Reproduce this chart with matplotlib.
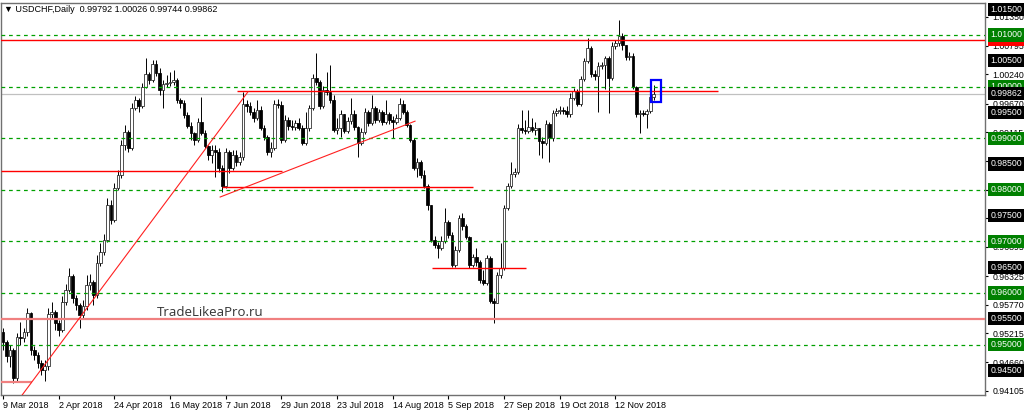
import matplotlib
matplotlib.use('Agg')
import matplotlib.pyplot as plt
import matplotlib.transforms as mtransforms
from matplotlib.patches import Rectangle
import numpy as np

plt.rcParams['font.family'] = ['Liberation Sans', 'DejaVu Sans']

# --- data ---
symbol = 'USDCHF,Daily'
header_ohlc = ['0.99792', '1.00026', '0.99744', '0.99862']
first_open = 0.9525

close = [
    0.9505, 0.9478, 0.9490, 0.9435, 0.9515, 0.9513, 0.9525, 0.9561, 0.9490, 0.9480,
    0.9465, 0.9451, 0.9459, 0.9559, 0.9563, 0.9542, 0.9529, 0.9583, 0.9606, 0.9633,
    0.9590, 0.9577, 0.9558, 0.9575, 0.9616, 0.9621, 0.9596, 0.9658, 0.9680, 0.9703,
    0.9771, 0.9742, 0.9804, 0.9829, 0.9887, 0.9912, 0.9881, 0.9959, 0.9974, 0.9963,
    0.9999, 1.0025, 1.0013, 1.0044, 1.0027, 0.9994, 1.0005, 1.0007, 1.0009, 1.0013,
    0.9974, 0.9968, 0.9945, 0.9924, 0.9910, 0.9897, 0.9932, 0.9910, 0.9885, 0.9868,
    0.9877, 0.9873, 0.9842, 0.9808, 0.9873, 0.9842, 0.9868, 0.9854, 0.9864, 0.9966,
    0.9963, 0.9951, 0.9939, 0.9955, 0.9920, 0.9902, 0.9873, 0.9881, 0.9966, 0.9965,
    0.9897, 0.9935, 0.9924, 0.9922, 0.9930, 0.9920, 0.9891, 0.9920, 0.9959, 1.0017,
    1.0009, 0.9963, 0.9994, 0.9990, 0.9974, 0.9916, 0.9920, 0.9947, 0.9914, 0.9933,
    0.9947, 0.9922, 0.9891, 0.9912, 0.9951, 0.9930, 0.9959, 0.9935, 0.9951, 0.9932,
    0.9947, 0.9935, 0.9932, 0.9939, 0.9966, 0.9951, 0.9926, 0.9897, 0.9842, 0.9854,
    0.9829, 0.9808, 0.9771, 0.9703, 0.9693, 0.9687, 0.9701, 0.9738, 0.9713, 0.9654,
    0.9683, 0.9745, 0.9730, 0.9709, 0.9654, 0.9670, 0.9660, 0.9625, 0.9620, 0.9668,
    0.9585, 0.9581, 0.9635, 0.9649, 0.9765, 0.9808, 0.9831, 0.9835, 0.9920, 0.9916,
    0.9914, 0.9922, 0.9916, 0.9920, 0.9895, 0.9891, 0.9928, 0.9901, 0.9949, 0.9953,
    0.9955, 0.9953, 0.9947, 0.9978, 0.9992, 0.9966, 1.0015, 1.0050, 1.0075, 1.0025,
    1.0021, 1.0040, 1.0042, 1.0056, 1.0017, 1.0079, 1.0085, 1.0098, 1.0081, 1.0058,
    1.0059, 0.9999, 0.9947, 0.9949, 0.9947, 0.9953, 0.99792, 0.99862,
]
high = [
    0.9532, 0.9509, 0.9499, 0.9494, 0.9523, 0.9544, 0.9532, 0.9571, 0.9563, 0.9497,
    0.9486, 0.9470, 0.9470, 0.9571, 0.9583, 0.9567, 0.9548, 0.9594, 0.9618, 0.9649,
    0.9637, 0.9596, 0.9581, 0.9587, 0.9635, 0.9637, 0.9625, 0.9674, 0.9697, 0.9715,
    0.9784, 0.9780, 0.9813, 0.9839, 0.9897, 0.9926, 0.9916, 0.9968, 0.9982, 0.9978,
    1.0007, 1.0056, 1.0028, 1.0052, 1.0052, 1.0036, 1.0013, 1.0023, 1.0028, 1.0032,
    1.0017, 0.9978, 0.9974, 0.9951, 0.9932, 0.9912, 0.9939, 0.9980, 0.9916, 0.9887,
    0.9887, 0.9887, 0.9881, 0.9848, 0.9881, 0.9877, 0.9877, 0.9877, 0.9873, 0.9990,
    0.9974, 0.9970, 0.9959, 0.9974, 0.9963, 0.9926, 0.9906, 0.9893, 0.9974, 0.9976,
    0.9972, 0.9945, 0.9941, 0.9935, 0.9935, 0.9939, 0.9926, 0.9951, 0.9965, 1.0025,
    1.0065, 1.0013, 1.0001, 1.0028, 1.0042, 0.9984, 0.9939, 0.9955, 0.9943, 0.9941,
    0.9978, 0.9955, 0.9924, 0.9920, 0.9959, 0.9955, 0.9984, 0.9963, 0.9957, 0.9955,
    0.9974, 0.9951, 0.9943, 0.9947, 0.9978, 0.9974, 0.9955, 0.9928, 0.9901, 0.9862,
    0.9858, 0.9839, 0.9811, 0.9771, 0.9711, 0.9699, 0.9711, 0.9765, 0.9742, 0.9718,
    0.9691, 0.9751, 0.9755, 0.9734, 0.9711, 0.9676, 0.9687, 0.9664, 0.9645, 0.9674,
    0.9672, 0.9590, 0.9641, 0.9697, 0.9771, 0.9813, 0.9854, 0.9842, 0.9928, 0.9955,
    0.9935, 0.9955, 0.9939, 0.9932, 0.9920, 0.9902, 0.9935, 0.9932, 0.9955, 0.9959,
    0.9963, 0.9961, 0.9963, 0.9988, 0.9997, 0.9996, 1.0021, 1.0056, 1.0094, 1.0079,
    1.0032, 1.0048, 1.0048, 1.0059, 1.0059, 1.0087, 1.0090, 1.0129, 1.0104, 1.0081,
    1.0067, 1.0065, 1.0001, 0.9955, 0.9955, 0.9957, 0.9982, 1.00026,
]
low = [
    0.9490, 0.9466, 0.9457, 0.9426, 0.9428, 0.9499, 0.9505, 0.9517, 0.9480, 0.9470,
    0.9455, 0.9441, 0.9430, 0.9451, 0.9552, 0.9529, 0.9517, 0.9525, 0.9577, 0.9602,
    0.9581, 0.9567, 0.9532, 0.9552, 0.9567, 0.9606, 0.9577, 0.9590, 0.9653, 0.9674,
    0.9699, 0.9734, 0.9738, 0.9800, 0.9823, 0.9877, 0.9873, 0.9877, 0.9955, 0.9951,
    0.9959, 0.9997, 1.0005, 1.0009, 1.0021, 0.9984, 0.9959, 0.9999, 1.0001, 1.0003,
    0.9968, 0.9959, 0.9939, 0.9920, 0.9897, 0.9887, 0.9893, 0.9906, 0.9881, 0.9858,
    0.9852, 0.9825, 0.9835, 0.9796, 0.9804, 0.9833, 0.9839, 0.9846, 0.9848, 0.9858,
    0.9951, 0.9945, 0.9932, 0.9935, 0.9916, 0.9897, 0.9868, 0.9864, 0.9877, 0.9959,
    0.9891, 0.9893, 0.9916, 0.9916, 0.9916, 0.9916, 0.9887, 0.9887, 0.9914, 0.9955,
    1.0003, 0.9957, 0.9959, 0.9984, 0.9968, 0.9912, 0.9908, 0.9902, 0.9910, 0.9910,
    0.9928, 0.9916, 0.9864, 0.9887, 0.9908, 0.9924, 0.9926, 0.9930, 0.9932, 0.9926,
    0.9928, 0.9928, 0.9901, 0.9928, 0.9935, 0.9947, 0.9922, 0.9893, 0.9839, 0.9825,
    0.9823, 0.9804, 0.9761, 0.9699, 0.9687, 0.9668, 0.9683, 0.9697, 0.9707, 0.9651,
    0.9651, 0.9680, 0.9722, 0.9705, 0.9649, 0.9651, 0.9653, 0.9620, 0.9616, 0.9616,
    0.9581, 0.9542, 0.9581, 0.9629, 0.9645, 0.9761, 0.9804, 0.9825, 0.9831, 0.9910,
    0.9908, 0.9910, 0.9912, 0.9906, 0.9868, 0.9862, 0.9887, 0.9854, 0.9895, 0.9943,
    0.9947, 0.9947, 0.9941, 0.9941, 0.9974, 0.9963, 0.9963, 1.0011, 1.0046, 1.0019,
    1.0013, 0.9951, 1.0034, 0.9995, 0.9949, 1.0013, 1.0073, 1.0079, 1.0071, 1.0052,
    1.0052, 0.9996, 0.9941, 0.9910, 0.9943, 0.9920, 0.9949, 0.99744,
]

date_labels = ['9 Mar 2018', '2 Apr 2018', '24 Apr 2018', '16 May 2018', '7 Jun 2018',
               '29 Jun 2018', '23 Jul 2018', '14 Aug 2018', '5 Sep 2018', '27 Sep 2018',
               '19 Oct 2018', '12 Nov 2018']
bars_per_label = 16

green_levels = [1.010, 1.000, 0.990, 0.980, 0.970, 0.960, 0.950]
black_levels = [1.015, 1.005, 0.995, 0.985, 0.975, 0.965, 0.955, 0.945]
scale_ticks = [1.01350, 1.00795, 1.00240, 0.99670, 0.99115, 0.98560, 0.98005,
               0.97450, 0.96895, 0.96325, 0.95770, 0.95215, 0.94660, 0.94105]
red_full_level = 1.0091
pink_full_level = 0.9550
# horizontal segments: price, first bar, last bar
red_segments = [(0.9992, 67.2, 205.5), (0.9837, -0.6, 80.2),
                (0.9806, 63.0, 135.0), (0.9649, 123.3, 150.3)]
pink_segments = [(0.9428, -0.6, 8.3)]
# trend lines: (bar, price) -> (bar, price)
trend_lines = [((5.5, 0.94023), (70.4, 0.9990)), ((62.4, 0.9786), (118.4, 0.9933))]
box_bars = (186.2, 189.1)
box_prices = (0.9970, 1.0013)
watermark = 'TradeLikeaPro.ru'

# --- figure ---
fig = plt.figure(figsize=(10.24, 4.13), dpi=100)
ax = fig.add_axes([0.001, 18 / 413, 984 / 1024, 392 / 413])
ax.set_xlim(-0.575, 282.2)
ax.set_ylim(0.94023, 1.0162)

c = np.array(close)
o = np.array([first_open] + close[:-1])
h = np.maximum(np.array(high), np.maximum(o, c))
l = np.minimum(np.array(low), np.minimum(o, c))
x = np.arange(len(c))
up = c >= o

ax.vlines(x, l, h, color='black', lw=0.7, zorder=2)
bottom = np.minimum(o, c)
height = np.maximum(np.abs(c - o), 0.00005)
ax.bar(x[up], height[up], bottom=bottom[up], width=0.76, color='white',
       edgecolor='#202020', lw=0.55, zorder=3)
ax.bar(x[~up], height[~up], bottom=bottom[~up], width=0.76, color='black',
       edgecolor='black', lw=0.55, zorder=3)

# levels and drawn objects
for lv in green_levels:
    ax.axhline(lv, color='#00a000', lw=0.9, ls=(0, (3, 3)), zorder=4)
ax.axhline(float(header_ohlc[3]), color='#c0c0c0', lw=0.9, zorder=1)
ax.axhline(red_full_level, color='#ff0000', lw=1.0, zorder=4)
ax.axhline(pink_full_level, color='#f08080', lw=1.6, zorder=4)
for p, a, b in red_segments:
    ax.hlines(p, a, b, color='#ff0000', lw=1.0, zorder=4)
for p, a, b in pink_segments:
    ax.hlines(p, a, b, color='#f08080', lw=1.6, zorder=4)
for (xa, ya), (xb, yb) in trend_lines:
    ax.plot([xa, xb], [ya, yb], color='#ff2020', lw=0.8, zorder=4)
ax.add_patch(Rectangle((box_bars[0], box_prices[0]), box_bars[1] - box_bars[0],
                       box_prices[1] - box_prices[0], fill=False, ec='#0000ff',
                       lw=1.6, zorder=5))

# axes styling
for s in ax.spines.values():
    s.set_color('#707070')
    s.set_linewidth(1.0)
ax.yaxis.tick_right()
ax.set_yticks(scale_ticks)
ax.set_yticklabels(['%.5f' % t for t in scale_ticks])
ax.tick_params(axis='y', length=2.5, width=0.8, pad=3, labelsize=6.3, colors='black')
ticks_x = [k * bars_per_label for k in range(len(date_labels))]
ax.set_xticks(ticks_x)
ax.set_xticklabels(date_labels)
for lbl in ax.get_xticklabels():
    lbl.set_ha('left')
ax.tick_params(axis='x', length=3, width=0.8, pad=1.5, labelsize=6.5)

# price scale boxes
tr = mtransforms.blended_transform_factory(ax.transAxes, ax.transData)
bx = 1.0052
box_font = 6.3
for lv in black_levels:
    ax.text(bx, lv, '%.5f' % lv, transform=tr, ha='left', va='center', color='white',
            fontsize=box_font, clip_on=False, zorder=10,
            bbox=dict(boxstyle='square,pad=0.25', fc='black', ec='none'))
ax.text(bx, red_full_level, '%.5f' % red_full_level, transform=tr, ha='left',
        va='center', color='white', fontsize=box_font, clip_on=False, zorder=10,
        bbox=dict(boxstyle='square,pad=0.25', fc='#ff0000', ec='none'))
for lv in green_levels:
    ax.text(bx, lv, '%.5f' % lv, transform=tr, ha='left', va='center', color='white',
            fontsize=box_font, clip_on=False, zorder=11,
            bbox=dict(boxstyle='square,pad=0.25', fc='#008000', ec='none'))
ax.text(bx, float(header_ohlc[3]), header_ohlc[3], transform=tr, ha='left',
        va='center', color='white', fontsize=box_font, clip_on=False, zorder=12,
        bbox=dict(boxstyle='square,pad=0.25', fc='black', ec='none'))

# header and watermark
fig.text(4 / 1024, 1 - 9 / 413, '\u25bc ' + symbol + '  ' + ' '.join(header_ohlc),
         fontsize=6.5, va='center', ha='left', color='black')
fig.text(157 / 1024, 1 - 312 / 413, watermark, fontsize=9.5, va='center', ha='left',
         color='#333333', family=['Open Sans', 'DejaVu Sans'])

fig.savefig('out.png', dpi=100)
